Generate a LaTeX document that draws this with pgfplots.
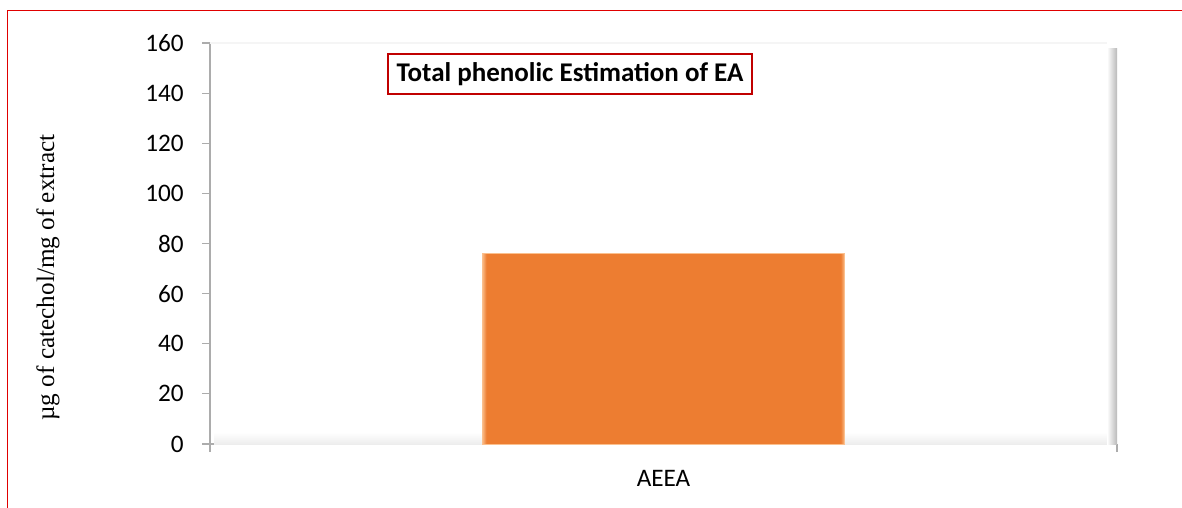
\documentclass[border=0pt]{standalone}
\usepackage{fontspec}
\setmainfont{Carlito}
\newfontfamily\serifrm{Liberation Serif}
\usepackage{pgfplots}
\pgfplotsset{compat=1.18}

\definecolor{barorange}{HTML}{ED7D31}
\definecolor{barlight}{HTML}{FBC08E}
\definecolor{framered}{HTML}{E00000}
\definecolor{boxred}{HTML}{C00000}

% bar face: flat orange with narrow light bevels at both sides
\pgfdeclarehorizontalshading{barbevel}{100bp}{%
  color(0bp)=(barlight); color(25bp)=(barlight);
  color(25.6bp)=(barorange); color(74.4bp)=(barorange);
  color(75bp)=(barlight); color(100bp)=(barlight)}

\begin{document}
\begin{tikzpicture}
\useasboundingbox (0pt,0pt) rectangle (591pt,254pt);
% outer frame
\draw[framered, line width=0.9pt] (3.75pt,-2pt) -- (3.75pt,248.75pt) -- (595pt,248.75pt);

\begin{axis}[
  at={(105pt,32pt)}, anchor=south west,
  scale only axis, width=453.5pt, height=200.5pt,
  xmin=-0.5, xmax=0.5, ymin=0, ymax=160,
  axis lines*=left,
  axis line style={draw=gray!65, line width=0.8pt},
  xtick={-0.5,0.5}, xticklabels={},
  extra x ticks={0}, extra x tick labels={AEEA},
  extra x tick style={major tick length=0pt,
    xticklabel style={anchor=base, yshift=-21pt}},
  ytick={0,20,...,160},
  tick align=outside, major tick length=4pt,
  tick style={draw=gray!65, line width=0.6pt},
  /pgf/number format/assume math mode=true,
  ticklabel style={font=\fontsize{12.6}{15}\selectfont},
  yticklabel style={anchor=east, inner sep=0pt, xshift=-9pt},
  ylabel={µg of catechol/mg of extract},
  ylabel style={font=\serifrm\fontsize{12.6}{14}\selectfont,
    at={(axis description cs:-0.1786,0.415)}, anchor=center},
  clip=false,
]
% back wall: floor and right-side shading
\fill[top color=white, bottom color=gray!14] ([xshift=2pt]rel axis cs:0,0) rectangle ([xshift=-3pt,yshift=6pt]rel axis cs:1,0);
\fill[left color=white, right color=gray!55] ([xshift=-5pt]rel axis cs:1,0) rectangle ([yshift=-3pt]rel axis cs:1,1);
\draw[gray!8, line width=1pt] (rel axis cs:0,1) -- ([xshift=-5pt]rel axis cs:1,1);

\addplot[ybar, bar width=0.4, draw=barlight, line width=0.5pt, shading=barbevel]
  coordinates {(0,76)};

\node[draw=boxred, line width=0.9pt, fill=white, minimum width=182pt,
  minimum height=20pt, inner sep=0pt,
  font=\bfseries\fontsize{13.5}{16}\selectfont]
  at (rel axis cs:0.3969,0.9227) {Total phenolic Estimation of EA};
\end{axis}
\end{tikzpicture}
\end{document}
